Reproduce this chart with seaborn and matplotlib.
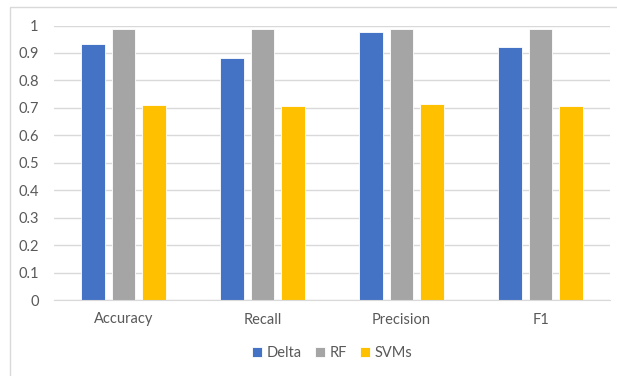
import pandas as pd
import seaborn as sns
import matplotlib.pyplot as plt
from matplotlib.patches import Rectangle

metrics = ["Accuracy", "Recall", "Precision", "F1"]
models = ["Delta", "RF", "SVMs"]
delta_scores = [0.934, 0.880, 0.977, 0.921]
rf_scores = [0.986, 0.987, 0.987, 0.986]
svm_scores = [0.710, 0.708, 0.715, 0.708]

df = pd.DataFrame({
    "Metric": metrics * 3,
    "Model": ["Delta"] * 4 + ["RF"] * 4 + ["SVMs"] * 4,
    "Score": delta_scores + rf_scores + svm_scores,
})

palette = {"Delta": "#4472C4", "RF": "#A5A5A5", "SVMs": "#FFC000"}
text_col = "#595959"
grid_col = "#D9D9D9"

sns.set_style("white")
plt.rcParams["font.family"] = ["Lato", "DejaVu Sans"]

fig = plt.figure(figsize=(6.17, 3.76), dpi=100)
ax = fig.add_axes([54 / 617, 1 - 300 / 376, 556 / 617, 274.5 / 376])

sns.barplot(data=df, x="Metric", y="Score", hue="Model", order=metrics,
            hue_order=models, palette=palette, width=0.66, gap=0.23,
            edgecolor="white", linewidth=0.6, saturation=1, ax=ax)

ax.set_ylim(0, 1)
ax.set_xlim(-0.5, 3.5)
ax.set_yticks([i / 10 for i in range(11)])
ax.set_yticklabels(["0"] + [f"0.{i}" for i in range(1, 10)] + ["1"])
ax.yaxis.grid(True, color=grid_col, linewidth=1)
ax.set_axisbelow(True)
for s in ["top", "right", "left"]:
    ax.spines[s].set_visible(False)
ax.spines["bottom"].set_color(grid_col)
ax.tick_params(axis="both", length=0, labelsize=10.5, colors=text_col)
ax.tick_params(axis="y", pad=11)
ax.tick_params(axis="x", pad=9)
ax.set_xlabel("")
ax.set_ylabel("")

handles, labels = ax.get_legend_handles_labels()
ax.legend_.remove()
fig.legend(handles, labels, loc="center", bbox_to_anchor=(332 / 617, 1 - 353 / 376),
           ncol=3, frameon=False, fontsize=10.5, handlelength=0.7, handleheight=0.7,
           handletextpad=0.3, columnspacing=0.9, labelcolor=text_col)

# chart border
fig.patches.append(Rectangle((10 / 617, -0.1), 1.2, 1.1 - 6.5 / 376,
                             transform=fig.transFigure, fill=False,
                             edgecolor=grid_col, linewidth=1))

plt.savefig("out.png", dpi=100)
